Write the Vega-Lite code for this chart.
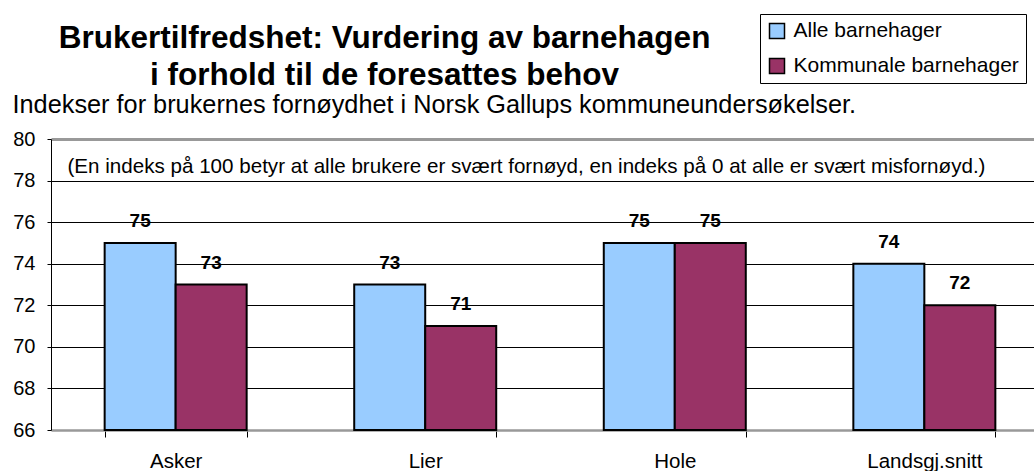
{
  "$schema": "https://vega.github.io/schema/vega-lite/v6.json",
  "width": 983,
  "height": 291,
  "autosize": {"type": "none"},
  "padding": {"left": 51, "top": 139, "right": 0, "bottom": 41},
  "background": "white",
  "config": {
    "font": "Liberation Sans",
    "view": {"stroke": null}
  },
  "title": {
    "text": ["Brukertilfredshet: Vurdering av barnehagen", "i forhold til de foresattes behov"],
    "fontSize": 31.5,
    "fontWeight": "bold",
    "lineHeight": 37,
    "anchor": "middle",
    "frame": "group",
    "dx": -158,
    "dy": 82,
    "color": "black"
  },
  "data": {
    "values": [
      {"kommune": "Asker", "type": "Alle barnehager", "indeks": 75},
      {"kommune": "Asker", "type": "Kommunale barnehager", "indeks": 73},
      {"kommune": "Lier", "type": "Alle barnehager", "indeks": 73},
      {"kommune": "Lier", "type": "Kommunale barnehager", "indeks": 71},
      {"kommune": "Hole", "type": "Alle barnehager", "indeks": 75},
      {"kommune": "Hole", "type": "Kommunale barnehager", "indeks": 75},
      {"kommune": "Landsgj.snitt", "type": "Alle barnehager", "indeks": 74},
      {"kommune": "Landsgj.snitt", "type": "Kommunale barnehager", "indeks": 72}
    ]
  },
  "encoding": {
    "x": {
      "field": "kommune",
      "type": "nominal",
      "sort": ["Asker", "Lier", "Hole", "Landsgj.snitt"],
      "scale": {"range": [0, 998], "paddingInner": 0.431, "paddingOuter": 0.215},
      "axis": {
        "orient": "bottom",
        "labelAngle": 0,
        "labelFontSize": 20.5,
        "labelColor": "black",
        "labelBaseline": "alphabetic",
        "labelPadding": 30,
        "ticks": true,
        "tickBand": "extent",
        "tickSize": 7,
        "tickColor": "black",
        "tickWidth": 1,
        "domainColor": "#999999",
        "domainWidth": 2.5,
        "grid": false,
        "title": "(En indeks på 100 betyr at alle brukere er svært fornøyd,  en indeks på 0 at alle er svært misfornøyd.)",
        "titleFontSize": 20.6,
        "titleFontWeight": "normal",
        "titleColor": "black",
        "titleAlign": "left",
        "titleAnchor": "start",
        "titleBaseline": "alphabetic",
        "titleX": 16,
        "titleY": -258
      }
    },
    "xOffset": {
      "field": "type",
      "type": "nominal",
      "sort": ["Alle barnehager", "Kommunale barnehager"],
      "scale": {"paddingInner": 0, "paddingOuter": 0}
    },
    "y": {
      "field": "indeks",
      "type": "quantitative",
      "scale": {"domain": [66, 80], "zero": false, "nice": false},
      "axis": {
        "orient": "left",
        "values": [66, 68, 70, 72, 74, 76, 78, 80],
        "format": "d",
        "labelFontSize": 20,
        "labelColor": "black",
        "labelPadding": 12,
        "tickSize": 4,
        "tickColor": "black",
        "domainColor": "black",
        "domainWidth": 1,
        "grid": true,
        "gridColor": {"condition": {"test": "datum.value == 80 || datum.value == 66", "value": "#999999"}, "value": "black"},
        "gridWidth": {"condition": {"test": "datum.value == 80", "value": 3}, "value": 1},
        "gridOpacity": 1,
        "title": "Indekser for brukernes fornøydhet i Norsk Gallups kommuneundersøkelser.",
        "titleAngle": 0,
        "titleAlign": "left",
        "titleBaseline": "alphabetic",
        "titleFontSize": 25.3,
        "titleFontWeight": "normal",
        "titleColor": "black",
        "titleX": -39,
        "titleY": -27
      }
    }
  },
  "layer": [
    {
      "mark": {"type": "bar", "stroke": "black", "strokeWidth": 2},
      "encoding": {
        "y2": {"datum": 66},
        "color": {
          "field": "type",
          "type": "nominal",
          "scale": {"domain": ["Alle barnehager", "Kommunale barnehager"], "range": ["#99CCFF", "#993366"]},
          "legend": {
            "title": null,
            "orient": "none",
            "legendX": 709,
            "legendY": -125,
            "direction": "vertical",
            "strokeColor": "black",
            "fillColor": "white",
            "padding": 6.5,
            "symbolType": "square",
            "symbolSize": 225,
            "symbolStrokeColor": "black",
            "symbolStrokeWidth": 1.5,
            "symbolOpacity": 1,
            "labelFontSize": 21,
            "labelColor": "black",
            "labelOffset": 6,
            "labelLimit": 400,
            "rowPadding": 13
          }
        }
      }
    },
    {
      "mark": {"type": "text", "fontWeight": "bold", "fontSize": 19, "baseline": "alphabetic", "dy": -16, "color": "black"},
      "encoding": {"text": {"field": "indeks", "type": "quantitative"}}
    }
  ]
}
